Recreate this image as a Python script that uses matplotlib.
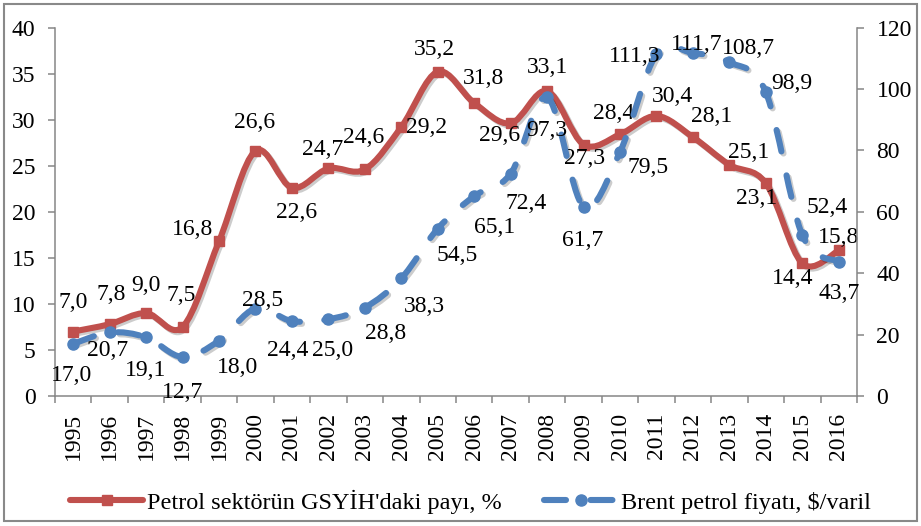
import numpy as np
import matplotlib.pyplot as plt
import matplotlib.patheffects as pe
from matplotlib.path import Path
from matplotlib.patches import PathPatch, Rectangle
from matplotlib.lines import Line2D

plt.rcParams['font.family'] = ['Liberation Serif', 'DejaVu Serif']

years = [str(y) for y in range(1995, 2017)]
petrol_share = [7.0, 7.8, 9.0, 7.5, 16.8, 26.6, 22.6, 24.7, 24.6, 29.2, 35.2,
                31.8, 29.6, 33.1, 27.3, 28.4, 30.4, 28.1, 25.1, 23.1, 14.4, 15.8]
brent_price = [17.0, 20.7, 19.1, 12.7, 18.0, 28.5, 24.4, 25.0, 28.8, 38.3, 54.5,
               65.1, 72.4, 97.3, 61.7, 79.5, 111.3, 111.7, 108.7, 98.9, 52.4, 43.7]
share_label = "Petrol sektörün GSYİH'daki payı, %"
brent_label = "Brent petrol fiyatı, $/varil"

# label offsets in pixels (dx right, dy down) relative to the marker
red_offsets = [(0, -29), (2, -30), (0, -28), (-1, -31), (-26, -12), (-1, -28), (5, 25),
               (-6, -19), (-1, -32), (25, 0), (-3, -22), (9, -25), (-11, 12), (0, -24),
               (1, 14), (-6, -21), (16, -19), (19, -21), (19, -12), (-9, 15), (-10, 15),
               (0, -13)]
blue_offsets = [(-2, 32), (-2, 18), (-1, 33), (0, 35), (19, 27), (7, -8), (-4, 29),
                (4, 31), (21, 26), (23, 28), (19, 27), (20, 31), (15, 30), (0, 33),
                (-1, 34), (28, 16), (-22, 2), (4, -8), (19, -14), (26, -9), (25, -28),
                (0, 32)]

RED = '#C0504D'
BLUE = '#4F81BD'
GRAY = '#868686'
LW = 4.4
DASH = (0, (3.6, 4.0))


def smooth_path(xs, ys):
    pts = np.column_stack([xs, ys]).astype(float)
    n = len(pts)
    verts = [pts[0]]
    codes = [Path.MOVETO]
    for i in range(n - 1):
        p0 = pts[max(i - 1, 0)]
        p1 = pts[i]
        p2 = pts[i + 1]
        p3 = pts[min(i + 2, n - 1)]
        verts += [p1 + (p2 - p0) / 6, p2 - (p3 - p1) / 6, p2]
        codes += [Path.CURVE4] * 3
    return Path(verts, codes)


def fmt(v):
    return f"{v:.1f}".replace('.', ',')


fig = plt.figure(figsize=(9.21, 5.26), dpi=100)
ax = fig.add_axes([0.0597, 0.2471, 0.8708, 0.7006])
ax2 = ax.twinx()

x = np.arange(len(years))
shadow = [pe.SimpleLineShadow(offset=(1.5, -1.5), shadow_color='k', alpha=0.2), pe.Normal()]

red_patch = PathPatch(smooth_path(x, petrol_share), fill=False, edgecolor=RED, lw=LW,
                      capstyle='round', joinstyle='round', path_effects=shadow, zorder=2)
ax.add_patch(red_patch)
ax.plot(x, petrol_share, ls='none', marker='s', ms=7.5, color=RED, zorder=3)

blue_patch = PathPatch(smooth_path(x, brent_price), fill=False, edgecolor=BLUE, lw=LW,
                       linestyle=DASH, capstyle='round', path_effects=shadow, zorder=2)
ax2.add_patch(blue_patch)
ax2.plot(x, brent_price, ls='none', marker='o', ms=8, color=BLUE, zorder=3)

for xi, v, (dx, dy) in zip(x, petrol_share, red_offsets):
    ax.annotate(fmt(v), (xi, v), xytext=(dx * 0.72, -dy * 0.72), textcoords='offset points',
                ha='center', va='center', fontsize=17, zorder=5)
for xi, v, (dx, dy) in zip(x, brent_price, blue_offsets):
    ax2.annotate(fmt(v), (xi, v), xytext=(dx * 0.72, -dy * 0.72), textcoords='offset points',
                 ha='center', va='center', fontsize=17, zorder=5)

ax.set_xlim(-0.5, len(years) - 0.5)
ax.set_ylim(0, 40)
ax2.set_ylim(0, 120)
ax.set_yticks(range(0, 41, 5))
ax2.set_yticks(range(0, 121, 20))
ax.set_xticks(x)
ax.set_xticklabels(years, rotation=90)
ax.set_xticks(np.arange(-0.5, len(years), 1), minor=True)

ax.tick_params(axis='x', which='major', length=0, pad=12, labelsize=17)
ax.tick_params(axis='x', which='minor', length=5, width=1.1, color=GRAY)
ax.tick_params(axis='y', length=5, width=1.1, color=GRAY, pad=9, labelsize=17)
ax2.tick_params(axis='y', length=5, width=1.1, color=GRAY, pad=9, labelsize=17)

for a in (ax, ax2):
    for s in a.spines.values():
        s.set_color(GRAY)
        s.set_linewidth(1.1)
    a.spines['top'].set_visible(False)
ax.spines['right'].set_visible(False)
ax2.spines['left'].set_visible(False)
ax2.spines['bottom'].set_visible(False)

handles = [
    Line2D([], [], color=RED, lw=LW, marker='s', ms=7.5, solid_capstyle='round'),
    Line2D([], [], color=BLUE, lw=LW, ls=DASH, dash_capstyle='round', marker='o', ms=8),
]
fig.legend(handles, [share_label, brent_label], loc='center', bbox_to_anchor=(0.511, 0.046),
           ncol=2, frameon=False, fontsize=17.5, handlelength=3.0, handletextpad=0.16,
           columnspacing=1.73)

fig.add_artist(Rectangle((4 / 921, 5 / 526), 913 / 921, 517 / 526, transform=fig.transFigure,
                         fill=False, edgecolor='#898989', lw=1.5))

fig.savefig('out.png', dpi=100)
